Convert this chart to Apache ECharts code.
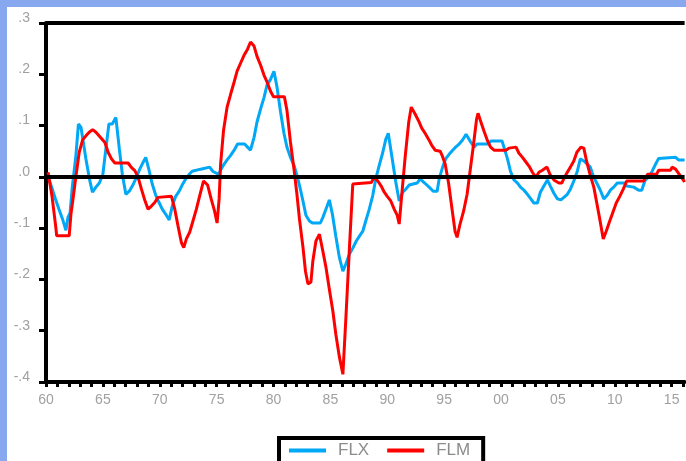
<!DOCTYPE html>
<html>
<head>
<meta charset="utf-8">
<script src="https://cdn.jsdelivr.net/npm/echarts@6/dist/echarts.min.js"></script>
<style>
  html, body { margin: 0; padding: 0; background: #fff; }
  #chart { width: 686px; height: 461px; }
</style>
</head>
<body>
<div id="chart"></div>
<script>
// Year / value pairs
const flx = [
  [1960.26,-0.005],[1960.53,-0.022],[1960.83,-0.043],[1961.14,-0.063],[1961.45,-0.082],[1961.75,-0.104],
  [1961.93,-0.079],[1962.11,-0.071],[1962.32,-0.018],[1962.63,0.042],[1962.85,0.103],[1963.07,0.097],
  [1963.20,0.079],[1963.51,0.035],[1963.82,-0.004],[1964.08,-0.030],[1964.39,-0.020],[1964.69,-0.012],
  [1965.00,0.005],[1965.26,0.054],[1965.53,0.103],[1965.83,0.103],[1966.14,0.116],[1966.45,0.054],
  [1966.71,0.005],[1967.02,-0.034],[1967.32,-0.028],[1967.59,-0.018],[1967.89,-0.004],[1968.20,0.013],
  [1968.46,0.025],[1968.77,0.038],[1969.08,0.011],[1969.34,-0.014],[1969.65,-0.036],[1969.96,-0.051],
  [1970.22,-0.063],[1970.53,-0.073],[1970.83,-0.084],[1971.10,-0.057],[1971.40,-0.038],[1971.71,-0.028],
  [1971.97,-0.016],[1972.28,-0.004],[1972.59,0.005],[1972.85,0.011],[1973.60,0.015],[1974.39,0.019],
  [1974.65,0.011],[1975.18,0.005],[1975.39,0.015],[1975.66,0.025],[1975.92,0.033],[1976.23,0.042],
  [1976.54,0.052],[1976.84,0.064],[1977.46,0.064],[1977.72,0.058],[1977.98,0.052],[1978.29,0.077],
  [1978.55,0.107],[1978.86,0.132],[1979.17,0.155],[1979.43,0.179],[1979.74,0.190],[1980.04,0.206],
  [1980.31,0.175],[1980.61,0.128],[1980.92,0.085],[1981.18,0.058],[1981.49,0.038],[1981.80,0.023],
  [1982.06,0.003],[1982.32,-0.020],[1982.59,-0.047],[1982.85,-0.075],[1983.16,-0.086],[1983.42,-0.090],
  [1984.12,-0.090],[1984.34,-0.079],[1984.61,-0.063],[1984.91,-0.045],[1985.18,-0.073],[1985.48,-0.116],
  [1985.79,-0.157],[1986.10,-0.184],[1986.36,-0.170],[1986.67,-0.151],[1986.97,-0.139],[1987.28,-0.125],
  [1987.54,-0.116],[1987.85,-0.106],[1988.11,-0.086],[1988.42,-0.063],[1988.73,-0.036],[1988.99,-0.004],
  [1989.30,0.023],[1989.61,0.048],[1989.87,0.073],[1990.09,0.085],[1990.48,0.029],[1990.75,-0.010],
  [1991.05,-0.047],[1991.36,-0.030],[1991.62,-0.024],[1991.93,-0.016],[1992.63,-0.012],[1992.89,-0.004],
  [1993.29,-0.012],[1993.68,-0.020],[1994.04,-0.028],[1994.39,-0.028],[1994.56,-0.004],[1994.87,0.019],
  [1995.13,0.035],[1995.44,0.044],[1995.75,0.052],[1996.01,0.058],[1996.32,0.064],[1996.62,0.072],
  [1996.93,0.083],[1997.28,0.070],[1997.63,0.058],[1997.89,0.064],[1998.86,0.064],[1999.12,0.070],
  [2000.09,0.070],[2000.26,0.058],[2000.57,0.035],[2000.83,0.011],[2001.14,-0.006],[2001.45,-0.012],
  [2001.71,-0.020],[2002.02,-0.026],[2002.32,-0.034],[2002.59,-0.042],[2002.89,-0.051],[2003.20,-0.051],
  [2003.46,-0.030],[2003.77,-0.018],[2004.08,-0.006],[2004.34,-0.018],[2004.65,-0.032],[2004.96,-0.043],
  [2005.26,-0.045],[2005.53,-0.040],[2005.83,-0.034],[2006.10,-0.024],[2006.40,-0.008],[2006.71,0.011],
  [2006.97,0.035],[2007.28,0.031],[2007.59,0.025],[2007.85,0.019],[2008.16,-0.001],[2008.46,-0.014],
  [2008.73,-0.026],[2009.04,-0.043],[2009.34,-0.036],[2009.61,-0.026],[2009.91,-0.020],[2010.22,-0.012],
  [2010.88,-0.012],[2011.05,-0.018],[2011.67,-0.020],[2012.11,-0.026],[2012.37,-0.026],[2012.68,-0.006],
  [2012.98,-0.001],[2013.29,0.011],[2013.55,0.023],[2013.86,0.036],[2015.35,0.038],[2015.61,0.033],
  [2016.14,0.033]
];

const flm = [
  [1960.18,0.009],[1960.53,-0.038],[1960.85,-0.096],[1960.94,-0.115],[1962.04,-0.115],[1962.19,-0.073],
  [1962.34,-0.049],[1962.63,0.001],[1962.92,0.048],[1963.22,0.072],[1963.51,0.080],[1963.80,0.087],
  [1964.10,0.092],[1964.39,0.087],[1964.74,0.078],[1965.18,0.067],[1965.46,0.048],[1965.76,0.035],
  [1966.05,0.027],[1967.22,0.027],[1967.52,0.018],[1967.81,0.012],[1968.10,-0.001],[1968.39,-0.024],
  [1968.68,-0.045],[1968.97,-0.063],[1969.27,-0.057],[1969.56,-0.050],[1969.85,-0.040],[1971.03,-0.038],
  [1971.32,-0.063],[1971.61,-0.096],[1971.90,-0.128],[1972.11,-0.138],[1972.34,-0.121],[1972.63,-0.108],
  [1972.92,-0.086],[1973.22,-0.063],[1973.51,-0.037],[1973.85,-0.008],[1974.21,-0.016],[1974.52,-0.043],
  [1974.82,-0.067],[1975.04,-0.090],[1975.22,-0.043],[1975.35,0.025],[1975.61,0.091],[1975.92,0.136],
  [1976.23,0.161],[1976.54,0.185],[1976.80,0.206],[1977.11,0.222],[1977.41,0.237],[1977.72,0.249],
  [1977.98,0.263],[1978.29,0.255],[1978.55,0.235],[1978.86,0.218],[1979.17,0.198],[1979.43,0.185],
  [1979.74,0.167],[1980.00,0.156],[1980.96,0.156],[1981.18,0.130],[1981.49,0.068],[1981.80,0.015],
  [1982.06,-0.034],[1982.28,-0.082],[1982.59,-0.137],[1982.81,-0.184],[1983.03,-0.209],[1983.29,-0.205],
  [1983.46,-0.164],[1983.73,-0.125],[1984.04,-0.112],[1984.34,-0.145],[1984.61,-0.176],[1984.91,-0.219],
  [1985.22,-0.262],[1985.48,-0.307],[1985.79,-0.351],[1986.10,-0.385],[1986.36,-0.277],[1986.67,-0.141],
  [1986.97,-0.014],[1988.60,-0.011],[1988.86,-0.001],[1989.17,-0.008],[1989.47,-0.018],[1989.74,-0.030],
  [1990.00,-0.038],[1990.31,-0.047],[1990.61,-0.063],[1990.88,-0.075],[1991.05,-0.092],[1991.32,-0.024],
  [1991.58,0.040],[1991.89,0.107],[1992.11,0.136],[1992.46,0.122],[1992.76,0.109],[1993.03,0.095],
  [1993.33,0.085],[1993.64,0.073],[1993.90,0.062],[1994.21,0.052],[1994.65,0.050],[1994.82,0.042],
  [1995.09,0.025],[1995.39,-0.012],[1995.66,-0.057],[1995.96,-0.106],[1996.14,-0.118],[1996.40,-0.092],
  [1996.71,-0.067],[1997.02,-0.034],[1997.28,0.011],[1997.59,0.064],[1997.85,0.112],[1997.98,0.124],
  [1998.16,0.112],[1998.51,0.089],[1998.82,0.070],[1999.08,0.058],[1999.39,0.052],[2000.44,0.052],
  [2000.70,0.056],[2001.32,0.058],[2001.58,0.046],[2001.89,0.038],[2002.19,0.029],[2002.46,0.021],
  [2002.76,0.009],[2003.07,-0.001],[2003.33,0.009],[2003.64,0.013],[2004.04,0.019],[2004.30,0.005],
  [2004.65,-0.006],[2005.09,-0.012],[2005.35,-0.012],[2005.53,-0.003],[2005.83,0.009],[2006.10,0.019],
  [2006.40,0.031],[2006.67,0.048],[2007.02,0.058],[2007.28,0.056],[2007.54,0.029],[2007.85,0.003],
  [2008.16,-0.020],[2008.42,-0.051],[2008.68,-0.082],[2008.99,-0.121],[2009.25,-0.106],[2009.56,-0.086],
  [2009.87,-0.067],[2010.13,-0.051],[2010.44,-0.038],[2010.75,-0.024],[2011.05,-0.008],[2012.54,-0.008],
  [2012.89,0.005],[2013.68,0.005],[2013.86,0.013],[2014.91,0.013],[2015.04,0.019],[2015.35,0.015],
  [2015.61,0.007],[2015.96,-0.004],[2016.14,-0.010]
];

const seriesNames = ['FLX', 'FLM'];
const seriesColors = ['#00a8f5', '#ff0000'];
const yearMin = 1960, yearMax = 2016.14;
const valueMin = -0.4, valueMax = 0.3, valueStep = 0.1;

const chart = echarts.init(document.getElementById('chart'), null, { renderer: 'canvas' });

const yFmt = function (v) {
  if (Math.abs(v) < 1e-9) return '.0';
  return v.toFixed(1).replace(/^(-?)0\./, '$1.');
};
const xFmt = function (v) {
  const r = Math.round(v);
  if (Math.abs(v - r) > 1e-6 || r % 5 !== 0) return '';
  return String(r % 100).padStart(2, '0');
};

chart.setOption({
  animation: false,
  backgroundColor: '#ffffff',
  textStyle: { fontFamily: 'Liberation Sans, Arial, sans-serif' },
  grid: { left: 46, right: 0, top: 23, bottom: 79, containLabel: false },
  graphic: [
    { type: 'rect', left: 0, top: 0, shape: { width: 686, height: 7 }, style: { fill: '#87a8ee' }, z: 100 },
    { type: 'rect', left: 0, top: 0, shape: { width: 7, height: 461 }, style: { fill: '#87a8ee' }, z: 100 }
  ],
  legend: {
    data: seriesNames,
    left: 279,
    top: 438,
    orient: 'horizontal',
    icon: 'rect',
    itemWidth: 37,
    itemHeight: 4,
    itemGap: 18,
    borderColor: '#000',
    borderWidth: 4,
    padding: [4, 13, 10, 10],
    textStyle: { fontSize: 17, color: '#8c8c8c', padding: [0, 0, 0, 7] }
  },
  xAxis: {
    type: 'value',
    min: yearMin,
    max: yearMax,
    interval: 1,
    axisLine: { show: true, onZero: false, lineStyle: { color: '#000', width: 4 } },
    axisTick: { show: true, length: 5, lineStyle: { color: '#000', width: 3 } },
    axisLabel: { formatter: xFmt, color: '#a0a0a0', fontSize: 14, margin: 11, showMaxLabel: false },
    splitLine: { show: false }
  },
  yAxis: {
    type: 'value',
    min: valueMin,
    max: valueMax,
    interval: valueStep,
    axisLine: { show: true, lineStyle: { color: '#000', width: 4 } },
    axisTick: { show: true, length: 7, lineStyle: { color: '#000', width: 3 } },
    axisLabel: { formatter: yFmt, color: '#a0a0a0', fontSize: 14, margin: 16, verticalAlign: 'bottom', lineHeight: 10 },
    splitLine: { show: false }
  },
  series: [
    {
      name: seriesNames[0],
      type: 'line',
      data: flx,
      symbol: 'none',
      color: seriesColors[0],
      lineStyle: { width: 3, color: seriesColors[0] },
      z: 2
    },
    {
      name: seriesNames[1],
      type: 'line',
      data: flm,
      symbol: 'none',
      color: seriesColors[1],
      lineStyle: { width: 3, color: seriesColors[1] },
      z: 3,
      markLine: {
        silent: true,
        symbol: 'none',
        label: { show: false },
        lineStyle: { color: '#000', width: 4, type: 'solid' },
        data: [{ yAxis: 0 }, { yAxis: valueMax }]
      }
    }
  ]
});
</script>
</body>
</html>
